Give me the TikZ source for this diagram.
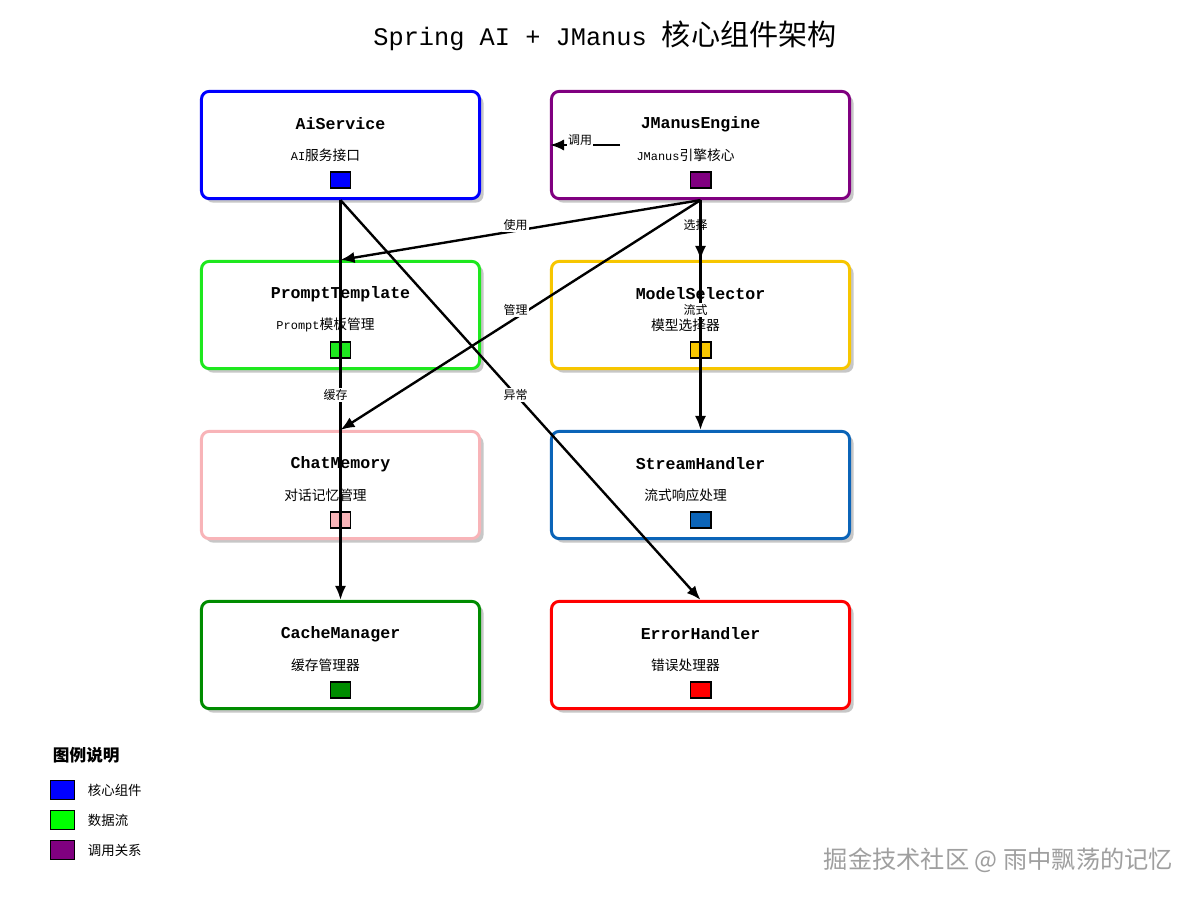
\documentclass[tikz,border=0pt]{standalone}
\usepackage{fontspec}
\setmainfont{Liberation Mono}
\newfontfamily\cjk[Scale=1.15]{Noto Sans CJK SC}
\usetikzlibrary{arrows.meta,shadows}
\definecolor{svcblue}{HTML}{0000FF}
\definecolor{engine}{HTML}{800080}
\definecolor{prompt}{HTML}{1EE81E}
\definecolor{selector}{HTML}{F7C600}
\definecolor{memory}{HTML}{F8B4B8}
\definecolor{stream}{HTML}{0B64B8}
\definecolor{cache}{HTML}{008C00}
\definecolor{errred}{HTML}{FF0000}
\definecolor{leggreen}{HTML}{00FF00}
\newcommand{\zh}[1]{{\cjk #1}}

\begin{document}
\begin{tikzpicture}[x=0.025cm,y=-0.025cm,
    comp/.style={draw,line width=2.1pt,fill=white,rounded corners=5.5pt,minimum height=2.68cm,inner sep=0pt,
      drop shadow={shadow xshift=0.1cm,shadow yshift=-0.1cm,fill=black!22,opacity=1}},
    comptitle/.style={font=\fontsize{11.8}{14}\selectfont\bfseries},
    compsub/.style={font=\fontsize{8.5}{10}\selectfont},
    swatch/.style={draw=black,line width=1.4pt,minimum width=0.5cm,minimum height=0.42cm,inner sep=0pt},
    link/.style={line width=1.7pt,-{Latex[length=10pt,width=8pt]}},
    linklabel/.style={fill=white,inner sep=1pt,font=\cjk\fontsize{7.4}{9}\selectfont,xshift=-3.5pt,yshift=3.5pt},
    legkey/.style={draw=black,line width=1pt,minimum width=0.6cm,minimum height=0.48cm,inner sep=0pt},
    legtext/.style={anchor=west,font=\cjk\fontsize{8.3}{10}\selectfont}]
  \useasboundingbox (0,0) rectangle (1200,900);
  \fill[white] (0,0) rectangle (1200,900);
  \node[font=\fontsize{18}{21}\selectfont] (title) at (605,36) {Spring AI + JManus \zh{核心组件架构}};
  % components
  \foreach \nm/\x/\y/\w/\col/\sub in {AiService/340.5/145/6.95/svcblue/{AI\zh{服务接口}},
      JManusEngine/700.5/145/7.45/engine/{JManus\zh{引擎核心}},
      PromptTemplate/340.5/315/6.95/prompt/{Prompt\zh{模板管理}},
      ModelSelector/700.5/315/7.45/selector/{\zh{模型选择器}},
      ChatMemory/340.5/485/6.95/memory/{\zh{对话记忆管理}},
      StreamHandler/700.5/485/7.45/stream/{\zh{流式响应处理}},
      CacheManager/340.5/655/6.95/cache/{\zh{缓存管理器}},
      ErrorHandler/700.5/655/7.45/errred/{\zh{错误处理器}}}{
    \node[comp,draw=\col,minimum width=\w cm] (\nm) at (\x,\y) {};
    \node[comptitle] (\nm-title) at (\x,{\y-21}) {\nm};
    \node[compsub] (\nm-sub) at ({\x-15},{\y+10}) {\sub};
    \node[swatch,fill=\col] (\nm-key) at (\x,{\y+35}) {};
  }
  % connections
  \draw[link] (AiService.south) -- node[linklabel]{缓存} (CacheManager.north);
  \draw[link] (AiService.south) -- node[linklabel]{异常} (ErrorHandler.north);
  \draw[link] (JManusEngine.south) -- node[linklabel]{使用} (PromptTemplate.north);
  \draw[link] (JManusEngine.south) -- node[linklabel]{管理} (ChatMemory.north);
  \draw[link] (JManusEngine.south) -- node[linklabel]{选择} (ModelSelector.north);
  \draw[link] (JManusEngine.south) -- node[linklabel]{流式} (StreamHandler.north);
  \coordinate (callfrom) at (620,145);
  \draw[link] (callfrom) -- node[linklabel]{调用} (JManusEngine.west);
  % legend
  \node[anchor=west,font=\cjk\bfseries\fontsize{10.3}{12}\selectfont] (legend) at (48,755) {图例说明};
  \foreach \i/\col/\txt in {0/svcblue/核心组件,1/leggreen/数据流,2/engine/调用关系}{
    \node[legkey,fill=\col] (key\i) at (62.5,{790+30*\i}) {};
    \node[legtext] (keytext\i) at (83,{790+30*\i}) {\txt};
  }
  \node[anchor=east,text=gray!75,font=\cjk\fontsize{15}{18}\selectfont] (mark) at (1178,860) {掘金技术社区 @ 雨中飘荡的记忆};
\end{tikzpicture}
\end{document}
